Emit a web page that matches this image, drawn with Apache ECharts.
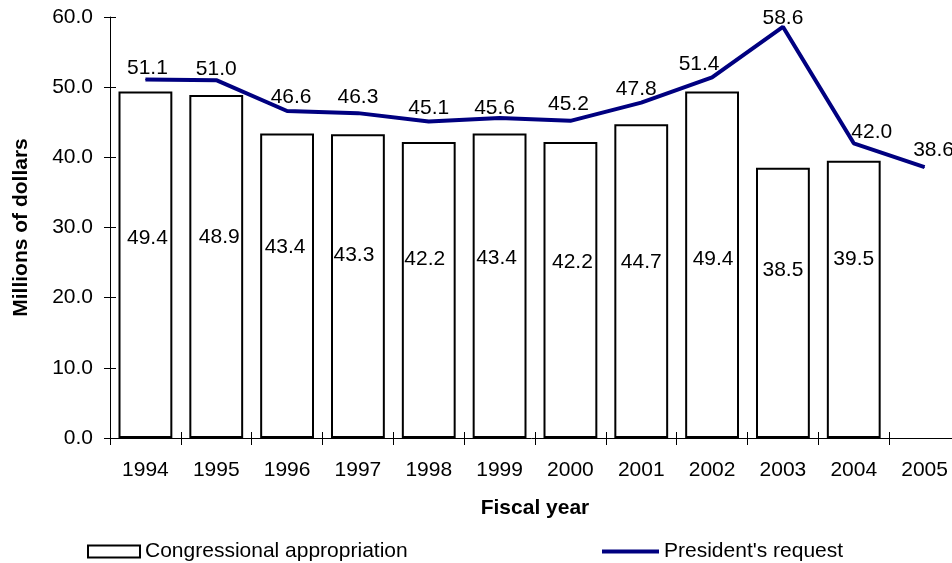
<!DOCTYPE html>
<html>
<head>
<meta charset="utf-8">
<script src="https://cdn.jsdelivr.net/npm/echarts@6/dist/echarts.min.js"></script>
<style>
html,body{margin:0;padding:0;background:#fff;}
#chart{width:952px;height:563px;}
</style>
</head>
<body>
<div id="chart"></div>
<script>
// ---- data ----
var years = ['1994','1995','1996','1997','1998','1999','2000','2001','2002','2003','2004','2005'];
var appropriation = [49.4, 48.9, 43.4, 43.3, 42.2, 43.4, 42.2, 44.7, 49.4, 38.5, 39.5, null];
var request = [51.1, 51.0, 46.6, 46.3, 45.1, 45.6, 45.2, 47.8, 51.4, 58.6, 42.0, 38.6];
var yTicks = { min: 0, max: 60, interval: 10 };

// ---- label placement styling (pixel nudges, as in the original) ----
var barLabelNudge = [[2,-26],[3,-29],[-2,-39],[-4,-31],[-4,-31],[-3,-28],[2,-28],[0,-19],[1,-5],[0,-33],[0,-40],[0,0]];
var lineLabelNudge = [[2,0],[0,0],[4,-3],[0,-5],[0,-2],[-5,1],[-2,-6],[-5,-2],[-13,-2],[0,2],[18,0],[9,-6]];

var FONT = 'Liberation Sans, Arial, sans-serif';
var FS = 21;
function fmt1(p) { return Number(p.value).toFixed(1); }

var barData = appropriation.map(function (v, i) {
  return { value: v, label: { offset: barLabelNudge[i] } };
});

var chart = echarts.init(document.getElementById('chart'), null, { renderer: 'canvas' });

chart.setOption({
  backgroundColor: '#ffffff',
  animation: false,
  textStyle: { fontFamily: FONT, color: '#000' },
  grid: { left: 110, right: -8, top: 17, bottom: 125, containLabel: false, outerBoundsMode: 'none' },
  legend: [
    {
      left: 82, top: 536, itemWidth: 52, itemHeight: 12, itemGap: 0,
      data: [{ name: 'Congressional appropriation', icon: 'rect' }],
      textStyle: { fontSize: FS, fontFamily: FONT, color: '#000' }
    },
    {
      left: 597, top: 536, itemWidth: 57, itemHeight: 4, itemGap: 0,
      data: [{ name: 'President\'s request', icon: 'rect', itemStyle: { color: '#000080', borderWidth: 0 } }],
      textStyle: { fontSize: FS, fontFamily: FONT, color: '#000' }
    }
  ],
  xAxis: [
    {
      type: 'category', data: years, position: 'bottom',
      name: 'Fiscal year', nameLocation: 'middle', nameGap: 60,
      nameTextStyle: { fontSize: FS, fontWeight: 'bold', fontFamily: FONT, color: '#000' },
      axisLine: { lineStyle: { color: '#000', width: 1 } },
      axisTick: { show: true, length: 7, lineStyle: { color: '#000' } },
      axisLabel: { fontSize: FS, margin: 22, color: '#000', fontFamily: FONT, interval: 0 },
      splitLine: { show: false }
    },
    {
      type: 'category', data: years, position: 'bottom',
      axisLine: { show: false },
      axisTick: { show: true, inside: true, length: 6, lineStyle: { color: '#000' } },
      axisLabel: { show: false },
      splitLine: { show: false }
    }
  ],
  yAxis: [
    {
      type: 'value', min: yTicks.min, max: yTicks.max, interval: yTicks.interval, position: 'left',
      name: 'Millions of dollars', nameLocation: 'middle', nameGap: 78,
      nameTextStyle: { fontSize: FS, fontWeight: 'bold', fontFamily: FONT, color: '#000' },
      axisLine: { show: true, lineStyle: { color: '#000', width: 1 } },
      axisTick: { show: true, length: 6, lineStyle: { color: '#000' } },
      axisLabel: { fontSize: FS, margin: 17, color: '#000', fontFamily: FONT,
        formatter: function (v) { return v.toFixed(1); } },
      splitLine: { show: false }
    },
    {
      type: 'value', min: yTicks.min, max: yTicks.max, interval: yTicks.interval, position: 'left',
      axisLine: { show: false },
      axisTick: { show: true, inside: true, length: 6, lineStyle: { color: '#000' } },
      axisLabel: { show: false },
      splitLine: { show: false }
    }
  ],
  series: [
    {
      name: 'Congressional appropriation', type: 'bar', data: barData,
      barCategoryGap: '24%',
      itemStyle: { color: '#ffffff', borderColor: '#000', borderWidth: 2 },
      label: { show: true, position: 'inside', fontSize: FS, color: '#000', fontFamily: FONT, formatter: fmt1 },
      z: 2
    },
    {
      name: 'President\'s request', type: 'line', data: request,
      symbol: 'circle', symbolSize: 1, showSymbol: true, smooth: false,
      lineStyle: { color: '#000080', width: 4 },
      itemStyle: { color: '#000080' },
      label: { show: true, position: 'top', distance: 0, fontSize: FS, color: '#000', fontFamily: FONT, formatter: fmt1 },
      labelLayout: function (params) {
        var n = lineLabelNudge[params.dataIndex] || [0, 0];
        return { dx: n[0], dy: n[1], hideOverlap: false };
      },
      z: 3
    }
  ]
});
</script>
</body>
</html>
